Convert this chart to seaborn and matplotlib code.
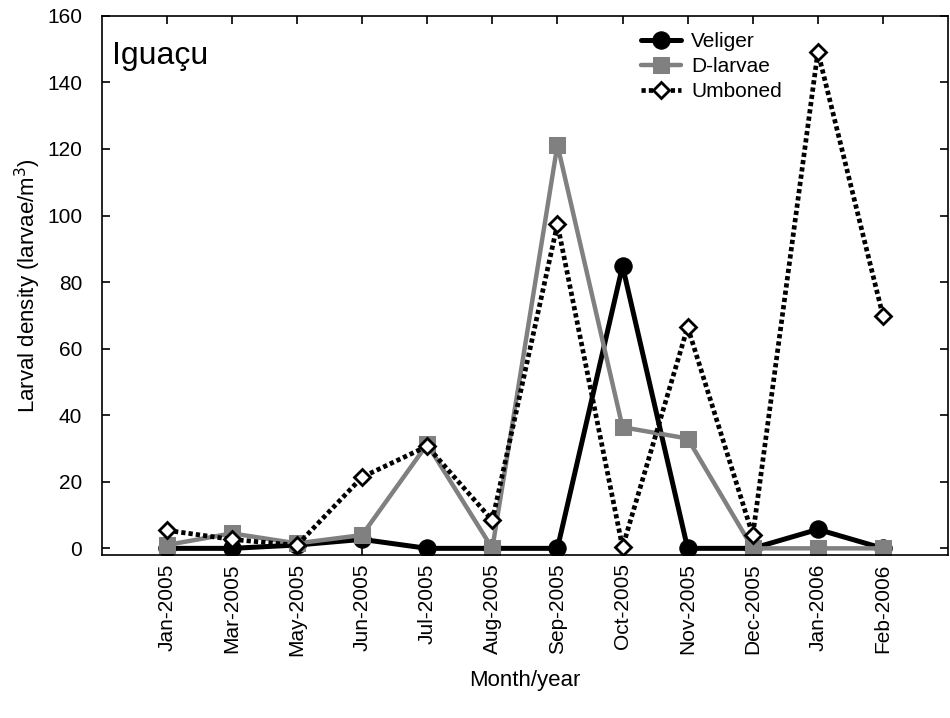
import matplotlib
matplotlib.use("Agg")
import matplotlib.pyplot as plt
import seaborn as sns
import pandas as pd
import numpy as np

months = ["Jan-2005", "Mar-2005", "May-2005", "Jun-2005", "Jul-2005", "Aug-2005",
          "Sep-2005", "Oct-2005", "Nov-2005", "Dec-2005", "Jan-2006", "Feb-2006"]
veliger = [0, 0, 1, 2.7, 0, 0, 0, 84.8, 0, 0, 5.7, 0]
dlarvae = [1, 4.5, 1.5, 4, 31.3, 0, 121.2, 36.4, 33, 0, 0, 0]
umboned = [5.4, 2.7, 0.9, 21.4, 30.7, 8.4, 97.4, 0.3, 66.5, 3.9, 149.2, 69.8]

sns.set_theme(style="ticks")
plt.rcParams['font.family'] = ['Liberation Sans', 'DejaVu Sans']
plt.rcParams['text.color'] = 'black'
plt.rcParams['axes.labelcolor'] = 'black'
plt.rcParams['xtick.color'] = 'black'
plt.rcParams['ytick.color'] = 'black'

df = pd.DataFrame({"x": np.arange(len(months)), "Veliger": veliger,
                   "D-larvae": dlarvae, "Umboned": umboned})

fig = plt.figure(figsize=(9.5, 7.18), dpi=100)
ax = fig.add_axes([0.107, 0.227, 0.891, 0.751])

sns.lineplot(data=df, x="x", y="Veliger", ax=ax, color="black", lw=3.6,
             marker="o", markersize=12.5, markeredgecolor="black", label="Veliger")
sns.lineplot(data=df, x="x", y="D-larvae", ax=ax, color="#808080", lw=3.2,
             marker="s", markersize=11.5, markeredgecolor="#808080", label="D-larvae")
sns.lineplot(data=df, x="x", y="Umboned", ax=ax, color="black", lw=3.4,
             linestyle=(0, (0.9, 0.65)), marker="D", markersize=8.5,
             markerfacecolor="white", markeredgecolor="black", markeredgewidth=2,
             label="Umboned")

ax.set_xlim(-1, 12)
ax.set_ylim(-2, 160)
ax.set_xticks(np.arange(len(months)))
ax.set_xticklabels(months, rotation=90)
ax.set_yticks(np.arange(0, 161, 20))
ax.tick_params(direction="in", top=True, right=True, labelsize=15, length=6, width=1.2)
ax.tick_params(axis="y", pad=14)
ax.tick_params(axis="x", pad=6)
for s in ax.spines.values():
    s.set_linewidth(1.2)
    s.set_color("black")

ax.set_xlabel("Month/year", fontsize=16, labelpad=10)
ax.set_ylabel("Larval density (larvae/m$^3$)", fontsize=16, labelpad=3)
ax.text(0.012, 0.925, "Iguaçu", transform=ax.transAxes, fontsize=23, va="center")

leg = ax.legend(loc="upper left", bbox_to_anchor=(0.615, 1.005), frameon=False,
                fontsize=15, handlelength=1.9, handletextpad=0.5, labelspacing=0.3)

fig.savefig("out.png", dpi=100)
